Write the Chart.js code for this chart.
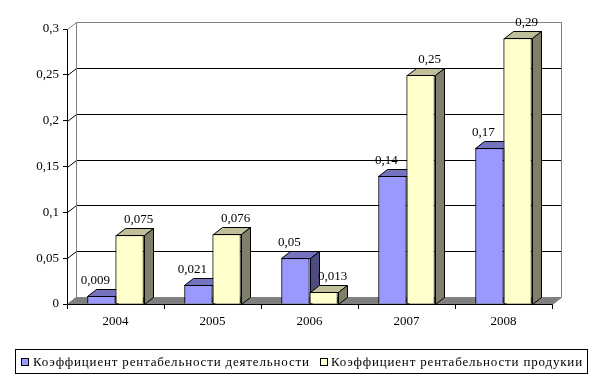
<!DOCTYPE html>
<html><head><meta charset="utf-8">
<script src="https://cdn.jsdelivr.net/npm/chart.js@4"></script>
<style>html,body{margin:0;padding:0;background:#fff}</style>
</head><body>
<canvas id="c" width="595" height="383"></canvas>
<script>
const categories = ['2004', '2005', '2006', '2007', '2008'];
const activityValues = [0.009, 0.021, 0.05, 0.14, 0.17];
const productValues = [0.075, 0.076, 0.013, 0.25, 0.29];
const activityLabels = ['0,009', '0,021', '0,05', '0,14', '0,17'];
const productLabels = ['0,075', '0,076', '0,013', '0,25', '0,29'];
const seriesNames = ['Коэффициент рентабельности деятельности', 'Коэффициент рентабельности продукии'];
const yTickLabels = ['0', '0,05', '0,1', '0,15', '0,2', '0,25', '0,3'];

const DX = 9, DY = 7;
const FONT = "'Liberation Serif', serif";

const styles = [
  {front: '#9999FF', top: '#7373BF', side: '#4C4C80', labelShift: -6, labels: activityLabels},
  {front: '#FFFFCC', top: '#BFBF99', side: '#80806A', labelShift: 9, labels: productLabels}
];

function poly(ctx, pts, fill) {
  ctx.beginPath();
  ctx.moveTo(pts[0][0], pts[0][1]);
  for (let i = 1; i < pts.length; i++) ctx.lineTo(pts[i][0], pts[i][1]);
  ctx.closePath();
  ctx.fillStyle = fill;
  ctx.fill();
  ctx.stroke();
}

const threeD = {
  id: 'threeD',
  beforeDatasetsDraw(chart) {
    const ctx = chart.ctx, a = chart.chartArea, ys = chart.scales.y;
    ctx.save();
    ctx.lineWidth = 1;
    const L = Math.round(a.left) + 0.5, R = Math.round(a.right) + 0.5;
    const T = Math.round(a.top) + 0.5, B = Math.round(a.bottom) + 0.5;
    ys.ticks.forEach((t, i) => {
      const y = Math.round(ys.getPixelForValue(t.value)) + 0.5;
      const top = i === ys.ticks.length - 1;
      ctx.strokeStyle = top ? '#808080' : '#000';
      ctx.beginPath();
      ctx.moveTo(L, y); ctx.lineTo(L + DX, y - DY);
      if (i > 0) ctx.lineTo(R + DX, y - DY);
      ctx.stroke();
    });
    ctx.strokeStyle = '#808080';
    ctx.beginPath();
    ctx.moveTo(L + DX, T - DY); ctx.lineTo(L + DX, B - DY);
    ctx.moveTo(R + DX, T - DY); ctx.lineTo(R + DX, B - DY);
    ctx.stroke();
    ctx.beginPath();
    ctx.moveTo(L, B); ctx.lineTo(L + DX, B - DY); ctx.lineTo(R + DX, B - DY); ctx.lineTo(R, B);
    ctx.closePath();
    ctx.fillStyle = '#808080';
    ctx.fill();
    ctx.strokeStyle = '#808080';
    ctx.stroke();
    ctx.strokeStyle = '#000';
    ctx.beginPath(); ctx.moveTo(L, B); ctx.lineTo(R, B); ctx.stroke();
    ctx.restore();
  },
  afterDatasetsDraw(chart) {
    const ctx = chart.ctx;
    ctx.save();
    ctx.lineWidth = 1;
    ctx.strokeStyle = '#000';
    chart.data.datasets.forEach((ds, di) => {
      const meta = chart.getDatasetMeta(di);
      const st = styles[di];
      meta.data.forEach(el => {
        el.draw(ctx);
        ctx.strokeStyle = '#000'; ctx.lineWidth = 1;
        const l = Math.round(el.x - el.width / 2) + 0.5, r = Math.round(el.x + el.width / 2) + 0.5;
        const t = Math.round(el.y) + 0.5, b = Math.round(el.base) + 0.5;
        poly(ctx, [[l, t], [l + DX, t - DY], [r + DX, t - DY], [r, t]], st.top);
        poly(ctx, [[r, t], [r + DX, t - DY], [r + DX, b - DY], [r, b]], st.side);
      });
    });
    ctx.font = '13px ' + FONT;
    ctx.fillStyle = '#000';
    ctx.textAlign = 'center';
    ctx.textBaseline = 'bottom';
    chart.data.datasets.forEach((ds, di) => {
      const meta = chart.getDatasetMeta(di);
      const st = styles[di];
      meta.data.forEach((el, i) => {
        ctx.fillText(st.labels[i], el.x + st.labelShift, el.y - DY - 2);
      });
    });
    ctx.restore();
  },
  afterDraw(chart) {
    const ctx = chart.ctx;
    ctx.save();
    ctx.font = '13px ' + FONT;
    const boxL = 15, boxR = 587, boxT = 349, boxB = 373;
    const pad = 5, sq = 8, gap1 = 4, sep = 10, gap2 = 3;
    const raw0 = ctx.measureText(seriesNames[0]).width, raw1 = ctx.measureText(seriesNames[1]).width;
    const avail = (boxR - boxL) - (pad * 2 + sq * 2 + gap1 + gap2 + sep);
    const n = seriesNames[0].length + seriesNames[1].length;
    const ls = Math.max(0, (avail - raw0 - raw1) / n);
    ctx.letterSpacing = ls.toFixed(2) + 'px';
    const w0 = raw0 + ls * seriesNames[0].length;
    ctx.strokeStyle = '#000'; ctx.lineWidth = 1;
    ctx.strokeRect(boxL + 0.5, boxT + 0.5, boxR - boxL, boxB - boxT);
    const cy = (boxT + boxB) / 2 + 0.5;
    ctx.textBaseline = 'middle'; ctx.textAlign = 'left';
    let x = boxL + pad + 1;
    const gaps = [gap1, gap2];
    [0, 1].forEach(i => {
      ctx.fillStyle = styles[i].front;
      ctx.fillRect(Math.round(x), Math.round(cy - sq / 2), sq, sq);
      ctx.strokeRect(Math.round(x) + 0.5, Math.round(cy - sq / 2) + 0.5, sq - 1, sq - 1);
      x += sq + gaps[i];
      ctx.fillStyle = '#000';
      ctx.fillText(seriesNames[i], x, cy + 1);
      x += w0 + sep;
    });
    ctx.restore();
  }
};

new Chart(document.getElementById('c'), {
  type: 'bar',
  data: {
    labels: categories,
    datasets: [
      {label: seriesNames[0], data: activityValues, backgroundColor: styles[0].front, borderColor: '#000', borderWidth: 1},
      {label: seriesNames[1], data: productValues, backgroundColor: styles[1].front, borderColor: '#000', borderWidth: 1}
    ]
  },
  options: {
    responsive: false,
    animation: false,
    devicePixelRatio: 1,
    layout: {padding: {left: 0, top: 29, right: 43, bottom: 54}},
    datasets: {bar: {categoryPercentage: 0.58, barPercentage: 1.0}},
    plugins: {legend: {display: false}, tooltip: {enabled: false}},
    scales: {
      x: {
        afterFit(s) { s.height = 25; },
        grid: {drawOnChartArea: false, drawTicks: true, tickLength: 5, color: '#000', offset: true},
        border: {color: '#000'},
        ticks: {color: '#000', font: {family: FONT, size: 13}, padding: 5}
      },
      y: {
        min: 0, max: 0.3,
        afterFit(s) { s.width = 67; },
        grid: {drawOnChartArea: false, drawTicks: true, tickLength: 4, color: '#000'},
        border: {color: '#000'},
        ticks: {
          stepSize: 0.05, color: '#000', font: {family: FONT, size: 13}, padding: 4,
          callback: (v, i) => yTickLabels[i]
        }
      }
    }
  },
  plugins: [threeD]
});
</script>
</body></html>
